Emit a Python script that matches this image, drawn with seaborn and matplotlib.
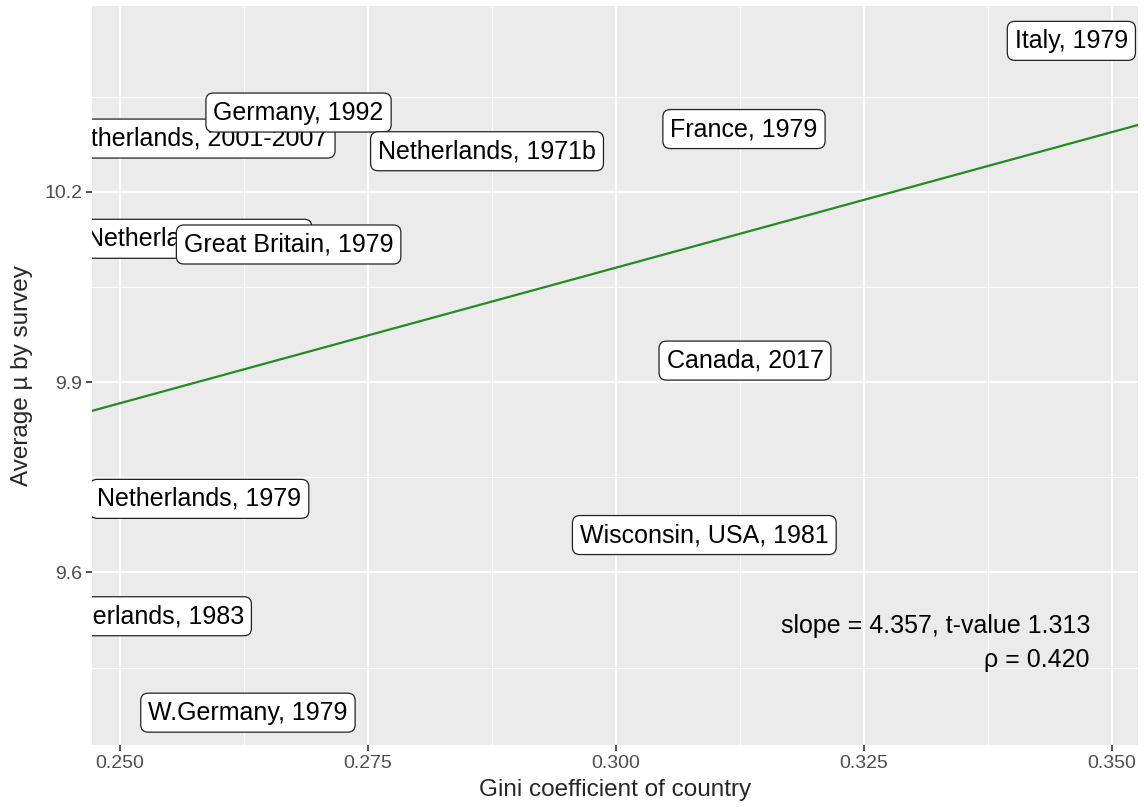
import seaborn as sns
import matplotlib.pyplot as plt
import pandas as pd
import numpy as np

# survey labels and their values
surveys = ["Netherlands, 2001-2007", "Germany, 1992", "Netherlands, 1971b", "France, 1979",
           "Italy, 1979", "Netherlands, 1971a", "Great Britain, 1979", "Canada, 2017",
           "Netherlands, 1979", "Wisconsin, USA, 1981", "Netherlands, 1983", "W.Germany, 1979"]
gini = [0.2574, 0.2680, 0.2870, 0.3129, 0.3459, 0.2576, 0.2670, 0.3130,
        0.2580, 0.3089, 0.2522, 0.2629]
mu = [10.284, 10.325, 10.264, 10.299, 10.438, 10.126, 10.117, 9.934,
      9.716, 9.659, 9.531, 9.379]

slope_txt = "4.357"
tvalue_txt = "1.313"
rho_txt = "0.420"

df = pd.DataFrame({"survey": surveys, "gini": gini, "mu": mu})

sns.set_theme(style="darkgrid", rc={
    "axes.facecolor": "#EBEBEB",
    "grid.color": "white",
    "axes.edgecolor": "#EBEBEB",
    "xtick.color": "#333333",
    "ytick.color": "#333333",
    "xtick.labelcolor": "#4D4D4D",
    "ytick.labelcolor": "#4D4D4D",
})
plt.rcParams["font.family"] = ["Liberation Sans", "DejaVu Sans"]

fig, ax = plt.subplots(figsize=(11.44, 8.07), dpi=100)
fig.subplots_adjust(left=0.0804, right=0.9948, top=0.9926, bottom=0.0768)

ax.set_xlim(0.24718, 0.35262)
ax.set_ylim(9.328, 10.493)

sns.regplot(data=df, x="gini", y="mu", scatter=False, ci=None, truncate=False,
            color="#228B22", line_kws={"lw": 1.6, "zorder": 2}, ax=ax)
ax.set_xlim(0.24718, 0.35262)
ax.set_ylim(9.328, 10.493)

for i, row in df.iterrows():
    ax.text(row["gini"], row["mu"], row["survey"], fontsize=18, ha="center", va="center",
            color="black", clip_on=True, zorder=3 + i,
            bbox=dict(boxstyle="round,pad=0.3,rounding_size=0.3", fc="white", ec="#222222", lw=0.9))

ax.text(0.954, 0.138, f"slope = {slope_txt}, t-value {tvalue_txt}\n\u03c1 = {rho_txt}",
        transform=ax.transAxes, ha="right", va="center", multialignment="right",
        fontsize=18, linespacing=1.55, color="black", zorder=20)

ax.set_xticks([0.250, 0.275, 0.300, 0.325, 0.350])
ax.set_xticklabels(["0.250", "0.275", "0.300", "0.325", "0.350"])
ax.set_yticks([9.6, 9.9, 10.2])
ax.set_yticklabels(["9.6", "9.9", "10.2"])
ax.set_xticks([0.2625, 0.2875, 0.3125, 0.3375], minor=True)
ax.set_yticks([9.45, 9.75, 10.05, 10.35], minor=True)
ax.grid(which="major", color="white", lw=1.4)
ax.grid(which="minor", color="white", lw=0.7)
ax.tick_params(which="major", length=4, width=1.2, labelsize=14, pad=3, left=True, bottom=True)
ax.tick_params(which="minor", length=0)

ax.set_xlabel("Gini coefficient of country", fontsize=17.5, labelpad=5)
ax.set_ylabel("Average \u00b5 by survey", fontsize=17.5, labelpad=8)
for s in ax.spines.values():
    s.set_visible(False)

fig.savefig("out.png", dpi=100)
